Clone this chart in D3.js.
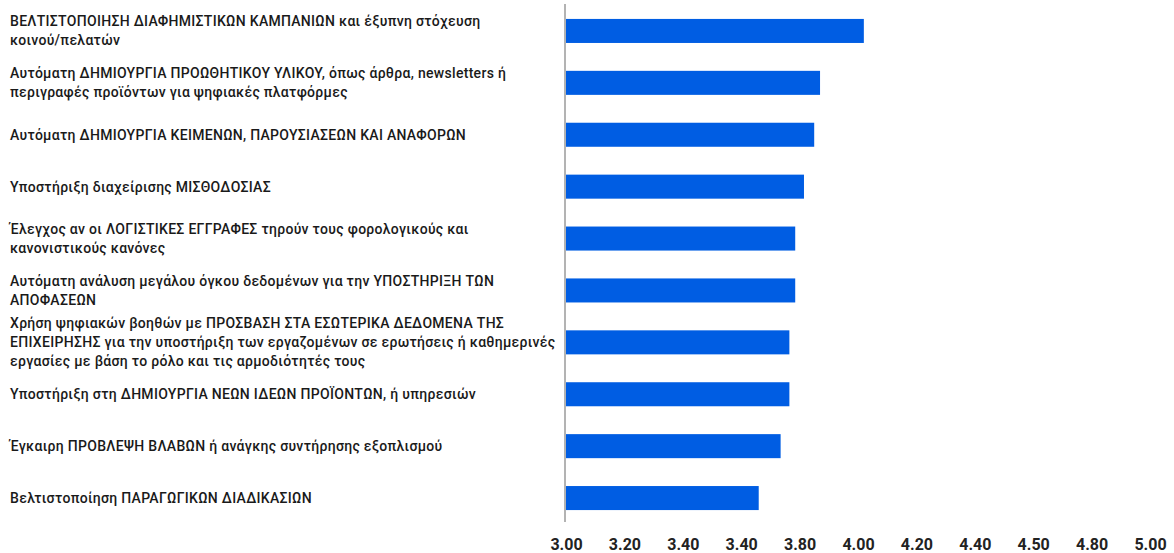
<!DOCTYPE html>
<html>
<head>
<meta charset="utf-8">
<script src="https://cdn.jsdelivr.net/npm/d3@7"></script>
<style>
  html, body { margin: 0; padding: 0; background: #fff; }
  svg { display: block; }
  text { font-family: Roboto, "Noto Sans", sans-serif; }
</style>
</head>
<body>
<svg id="chart" width="1174" height="553"></svg>
<script>
const categories = [
  "ΒΕΛΤΙΣΤΟΠΟΙΗΣΗ ΔΙΑΦΗΜΙΣΤΙΚΩΝ ΚΑΜΠΑΝΙΩΝ και έξυπνη στόχευση\nκοινού/πελατών",
  "Αυτόματη ΔΗΜΙΟΥΡΓΙΑ ΠΡΟΩΘΗΤΙΚΟΥ ΥΛΙΚΟΥ, όπως άρθρα, newsletters ή\nπεριγραφές προϊόντων για ψηφιακές πλατφόρμες",
  "Αυτόματη ΔΗΜΙΟΥΡΓΙΑ ΚΕΙΜΕΝΩΝ, ΠΑΡΟΥΣΙΑΣΕΩΝ ΚΑΙ ΑΝΑΦΟΡΩΝ",
  "Υποστήριξη διαχείρισης ΜΙΣΘΟΔΟΣΙΑΣ",
  "Έλεγχος αν οι ΛΟΓΙΣΤΙΚΕΣ ΕΓΓΡΑΦΕΣ τηρούν τους φορολογικούς και\nκανονιστικούς κανόνες",
  "Αυτόματη ανάλυση μεγάλου όγκου δεδομένων για την ΥΠΟΣΤΗΡΙΞΗ ΤΩΝ\nΑΠΟΦΑΣΕΩΝ",
  "Χρήση ψηφιακών βοηθών με ΠΡΟΣΒΑΣΗ ΣΤΑ ΕΣΩΤΕΡΙΚΑ ΔΕΔΟΜΕΝΑ ΤΗΣ\nΕΠΙΧΕΙΡΗΣΗΣ για την υποστήριξη των εργαζομένων σε ερωτήσεις ή καθημερινές\nεργασίες με βάση το ρόλο και τις αρμοδιότητές τους",
  "Υποστήριξη στη ΔΗΜΙΟΥΡΓΙΑ ΝΕΩΝ ΙΔΕΩΝ ΠΡΟΪΟΝΤΩΝ, ή υπηρεσιών",
  "Έγκαιρη ΠΡΟΒΛΕΨΗ ΒΛΑΒΩΝ ή ανάγκης συντήρησης εξοπλισμού",
  "Βελτιστοποίηση ΠΑΡΑΓΩΓΙΚΩΝ ΔΙΑΔΙΚΑΣΙΩΝ"
];
const values = [4.02, 3.87, 3.85, 3.815, 3.785, 3.785, 3.765, 3.765, 3.735, 3.66];
const tickValues = [3.0, 3.2, 3.4, 3.6, 3.8, 4.0, 4.2, 4.4, 4.6, 4.8, 5.0];
const tickLabels = ["3.00", "3.20", "3.40", "3.40", "3.80", "4.00", "4.20", "4.40", "4.50", "4.80", "5.00"];

const svg = d3.select("#chart");
const x = d3.scaleLinear().domain([3, 5]).range([566, 1150]);
const y = d3.scaleBand().domain(d3.range(categories.length)).range([5, 524])
  .paddingInner(0.537).paddingOuter(0.2685);

// bars
svg.append("g").selectAll("rect").data(values).join("rect")
  .attr("x", x(3))
  .attr("y", (d, i) => y(i))
  .attr("width", d => x(d) - x(3))
  .attr("height", y.bandwidth())
  .attr("fill", "#005de3");

// vertical axis line
svg.append("line")
  .attr("x1", x(3) - 1).attr("x2", x(3) - 1)
  .attr("y1", 4).attr("y2", 522)
  .attr("stroke", "#b3b3b3").attr("stroke-width", 2);

// category labels
const lineH = 19;
const lab = svg.append("g").selectAll("text").data(categories).join("text")
  .attr("x", 10)
  .attr("font-size", 14)
  .attr("font-weight", 500)
  .attr("letter-spacing", 0.3)
  .attr("fill", "#1a1a1a");
lab.each(function(d, i) {
  const lines = d.split("\n");
  const cy = y(i) + y.bandwidth() / 2;
  const t = d3.select(this);
  lines.forEach((ln, k) => {
    t.append("tspan")
      .attr("x", 10)
      .attr("y", cy + (k - (lines.length - 1) / 2) * lineH)
      .attr("dy", "0.35em")
      .text(ln);
  });
});

// x axis
const xAxis = d3.axisBottom(x).tickValues(tickValues)
  .tickFormat((d, i) => tickLabels[i]).tickSize(0).tickPadding(0);
const gx = svg.append("g").attr("transform", "translate(0,539)").call(xAxis);
gx.select(".domain").remove();
gx.selectAll("text")
  .attr("font-family", "Roboto, sans-serif")
  .attr("font-size", 16)
  .attr("font-weight", 700)
  .attr("dy", "0.71em")
  .attr("fill", "#222");
</script>
</body>
</html>
